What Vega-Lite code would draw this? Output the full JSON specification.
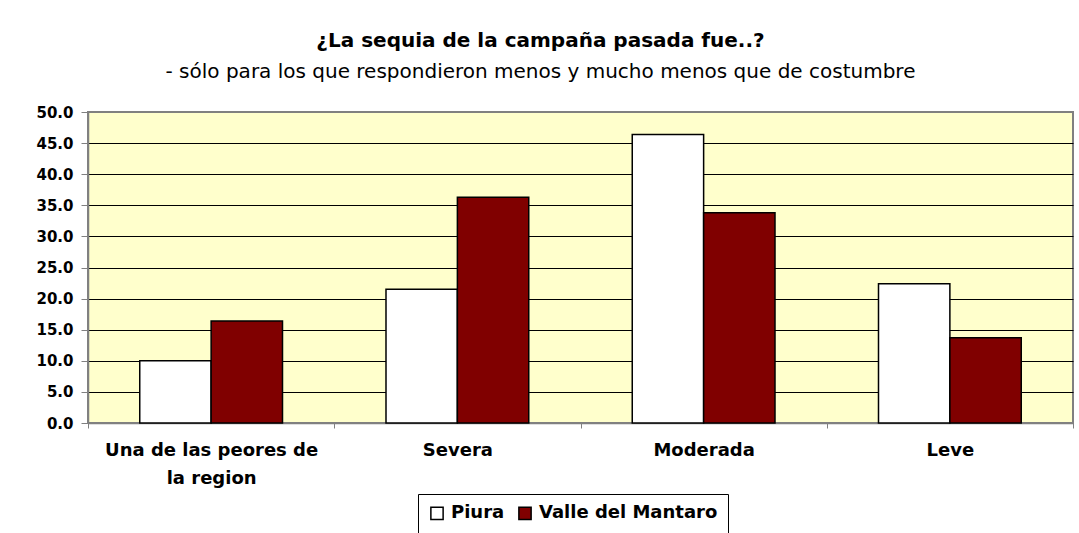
{
  "$schema": "https://vega.github.io/schema/vega-lite/v6.json",
  "width": 985,
  "height": 311,
  "autosize": {"type": "none"},
  "padding": {"left": 88, "top": 112, "right": 6, "bottom": 110},
  "background": "white",
  "title": {
    "text": "¿La sequia de la campaña pasada fue..?",
    "subtitle": "- sólo para los que respondieron menos y mucho menos que de costumbre",
    "anchor": "middle",
    "dx": -40,
    "font": "DejaVu Sans",
    "fontSize": 20,
    "fontWeight": "bold",
    "color": "#000000",
    "subtitleFont": "DejaVu Sans",
    "subtitleFontSize": 20,
    "subtitleColor": "#000000",
    "subtitlePadding": 11,
    "offset": 23
  },
  "data": {
    "values": [
      {"categoria": "Una de las peores de la region", "serie": "Piura", "valor": 10.0},
      {"categoria": "Una de las peores de la region", "serie": "Valle del Mantaro", "valor": 16.4},
      {"categoria": "Severa", "serie": "Piura", "valor": 21.5},
      {"categoria": "Severa", "serie": "Valle del Mantaro", "valor": 36.3},
      {"categoria": "Moderada", "serie": "Piura", "valor": 46.4},
      {"categoria": "Moderada", "serie": "Valle del Mantaro", "valor": 33.8},
      {"categoria": "Leve", "serie": "Piura", "valor": 22.4},
      {"categoria": "Leve", "serie": "Valle del Mantaro", "valor": 13.7}
    ]
  },
  "mark": {"type": "bar", "stroke": "#000000", "strokeWidth": 1.5},
  "encoding": {
    "x": {
      "field": "categoria",
      "type": "nominal",
      "sort": ["Una de las peores de la region", "Severa", "Moderada", "Leve"],
      "scale": {"paddingInner": 0, "paddingOuter": 0},
      "axis": {
        "title": null,
        "labelAngle": 0,
        "labelExpr": "datum.value == 'Una de las peores de la region' ? ['Una de las peores de', 'la region'] : datum.label",
        "labelFont": "DejaVu Sans",
        "labelFontSize": 18,
        "labelFontWeight": "bold",
        "labelColor": "#000000",
        "labelLineHeight": 28,
        "labelPadding": 13,
        "labelLimit": 400,
        "tickBand": "extent",
        "tickSize": 5,
        "tickColor": "#808080",
        "domainColor": "#808080",
        "domainWidth": 1.5
      }
    },
    "xOffset": {
      "field": "serie",
      "type": "nominal",
      "sort": ["Piura", "Valle del Mantaro"],
      "scale": {"paddingInner": 0, "paddingOuter": 0.725}
    },
    "y": {
      "field": "valor",
      "type": "quantitative",
      "scale": {"domain": [0, 50], "nice": false},
      "axis": {
        "title": null,
        "values": [0, 5, 10, 15, 20, 25, 30, 35, 40, 45, 50],
        "format": ".1f",
        "labelFont": "DejaVu Sans",
        "labelFontSize": 15,
        "labelFontWeight": "bold",
        "labelColor": "#000000",
        "labelPadding": 8,
        "tickSize": 7,
        "tickColor": "#808080",
        "domainColor": "#808080",
        "domainWidth": 1.5,
        "grid": true,
        "gridColor": {"condition": {"test": "datum.value == 50 || datum.value == 0", "value": "#808080"}, "value": "#000000"},
        "gridWidth": 1,
        "gridOpacity": 1
      }
    },
    "color": {
      "field": "serie",
      "type": "nominal",
      "sort": ["Piura", "Valle del Mantaro"],
      "scale": {"domain": ["Piura", "Valle del Mantaro"], "range": ["#FFFFFF", "#800000"]},
      "legend": {
        "title": null,
        "orient": "none",
        "legendX": 330,
        "legendY": 382,
        "direction": "horizontal",
        "padding": 10,
        "strokeColor": "#000000",
        "fillColor": "#FFFFFF",
        "symbolType": "square",
        "symbolSize": 150,
        "symbolStrokeColor": "#000000",
        "symbolStrokeWidth": 1.5,
        "symbolOpacity": 1,
        "labelFont": "DejaVu Sans",
        "labelFontSize": 18,
        "labelFontWeight": "bold",
        "labelColor": "#000000",
        "labelOffset": 5,
        "labelLimit": 300,
        "columnPadding": 10
      }
    }
  },
  "config": {
    "view": {"fill": "#FFFFCC", "stroke": "#808080", "strokeWidth": 2}
  }
}
